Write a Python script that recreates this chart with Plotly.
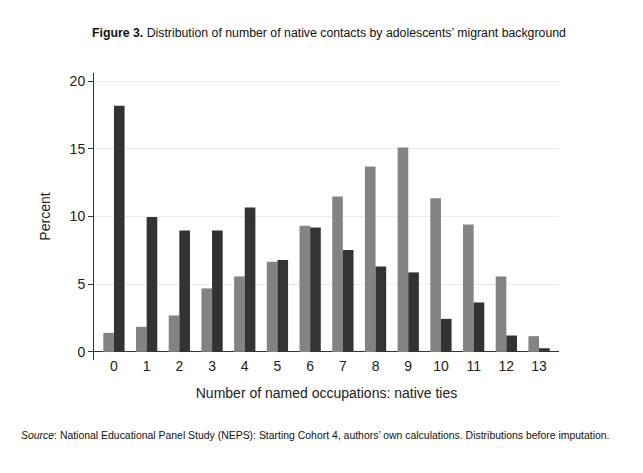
import plotly.graph_objects as go

categories = list(range(14))
tick_labels = [str(c) for c in categories]
natives_light = [1.40, 1.85, 2.69, 4.69, 5.57, 6.65, 9.31, 11.48, 13.70, 15.10, 11.34, 9.41, 5.57, 1.16]
migrants_dark = [18.18, 9.96, 8.97, 8.97, 10.67, 6.78, 9.19, 7.52, 6.31, 5.87, 2.44, 3.65, 1.21, 0.27]

W, H = 643, 473
OFF = 8  # page body margin
L, R, T, B = 94 - OFF, 84 + OFF, 73 - OFF, 113 + OFF

fig = go.Figure()
fig.add_trace(go.Bar(x=categories, y=natives_light, marker=dict(color="#838383", line=dict(width=0)), name="light"))
fig.add_trace(go.Bar(x=categories, y=migrants_dark, marker=dict(color="#333333", line=dict(width=0)), name="dark"))

pw = W - L - R
ph = H - T - B


def px_x(x):
    return (x - OFF - L) / pw


def px_y(y):
    return 1 - (y - OFF - T) / ph


fig.update_layout(
    width=W, height=H,
    barmode="group", bargap=0.35, bargroupgap=0,
    showlegend=False,
    plot_bgcolor="white", paper_bgcolor="white",
    margin=dict(l=L, r=R, t=T, b=B),
    font=dict(family="Liberation Sans, Arial, sans-serif", color="#222222"),
    xaxis=dict(
        range=[-0.61, 13.61], tickmode="array", tickvals=categories, ticktext=tick_labels,
        showgrid=False, showline=False, zeroline=False, ticks="", tickfont=dict(size=14),
        ticklabelstandoff=-4,
        title=dict(text="Number of named occupations: native ties", font=dict(size=14), standoff=15),
        automargin=False,
    ),
    yaxis=dict(
        range=[-0.6, 20.6], tickvals=[0, 5, 10, 15, 20],
        showgrid=True, gridcolor="#ececec", gridwidth=1,
        zeroline=True, zerolinecolor="#333333", zerolinewidth=1,
        showline=True, linecolor="#333333", linewidth=1,
        ticks="outside", ticklen=5, tickcolor="#333333", tickfont=dict(size=14),
        title=dict(text="Percent", font=dict(size=14), standoff=15),
        automargin=False,
    ),
    annotations=[
        dict(text="<b>Figure 3.</b> Distribution of number of native contacts by adolescents’ migrant background",
             x=px_x(328.5), y=px_y(33), xref="paper", yref="paper", showarrow=False,
             xanchor="center", yanchor="middle",
             font=dict(family="Liberation Sans Narrow, Liberation Sans, Arial", size=12.3, color="#111111")),
        dict(text="<i>Source</i>: National Educational Panel Study (NEPS): Starting Cohort 4, authors’ own calculations. Distributions before imputation.",
             x=px_x(19), y=px_y(435), xref="paper", yref="paper", showarrow=False,
             xanchor="left", yanchor="middle",
             font=dict(family="Liberation Sans Narrow, Liberation Sans, Arial", size=10.45, color="#111111")),
    ],
)

fig.write_html("out.html")
